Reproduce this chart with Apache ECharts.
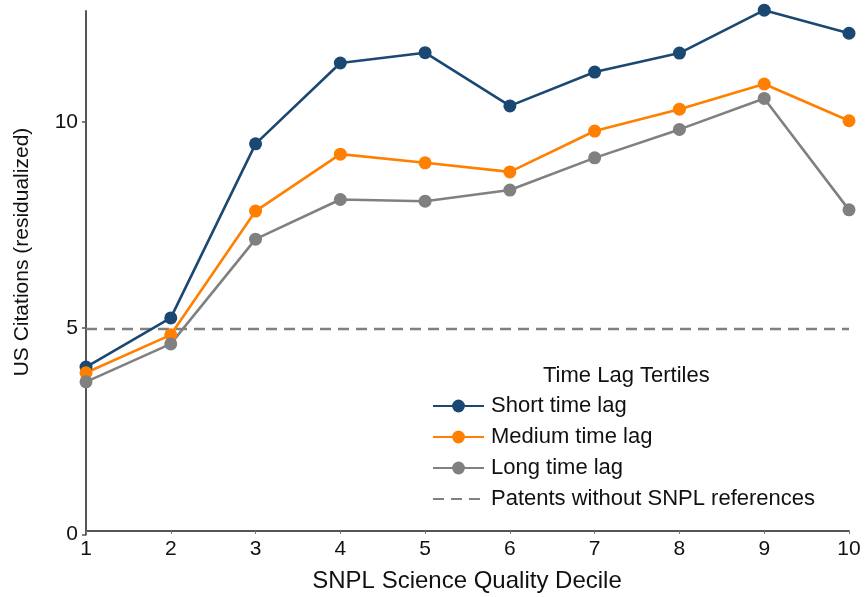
<!DOCTYPE html>
<html><head><meta charset="utf-8">
<script src="https://cdn.jsdelivr.net/npm/echarts@6/dist/echarts.min.js"></script>
<style>html,body{margin:0;padding:0;background:#fff}#c{width:865px;height:597px}</style>
</head><body><div id="c"></div>
<script>
const deciles = ['1','2','3','4','5','6','7','8','9','10'];
const shortLag = [4.06, 5.25, 9.47, 11.43, 11.68, 10.39, 11.21, 11.67, 12.71, 12.15];
const mediumLag = [3.92, 4.84, 7.84, 9.22, 9.01, 8.79, 9.78, 10.31, 10.92, 10.03];
const longLag = [3.70, 4.62, 7.16, 8.12, 8.08, 8.35, 9.13, 9.82, 10.57, 7.87];
const noSnplValue = 4.98;
const noSnpl = deciles.map(() => noSnplValue);
const legendNames = ['Short time lag','Medium time lag','Long time lag','Patents without SNPL references'];

const F = 'Liberation Sans, Arial, sans-serif';
const chart = echarts.init(document.getElementById('c'));
function ser(name, data, color) {
  return {name, type:'line', data, symbol:'circle', symbolSize:13, clip:false,
    lineStyle:{color, width:2.6}, itemStyle:{color}, z:3};
}
chart.setOption({
  animation:false,
  textStyle:{fontFamily:F},
  grid:{left:86, right:16, top:11, bottom:62.5, containLabel:false},
  xAxis:{type:'category', data:deciles, boundaryGap:false, offset:-3.5,
    axisLine:{lineStyle:{color:'#555', width:2}},
    axisTick:{show:true, length:3, inside:false, lineStyle:{color:'#777', width:1}},
    axisLabel:{fontSize:21, color:'#111', margin:8, fontFamily:F}, splitLine:{show:false}},
  yAxis:{type:'value', min:0, max:12.69, interval:5,
    axisLine:{show:true, lineStyle:{color:'#555', width:2}},
    axisTick:{show:true, length:4, lineStyle:{color:'#555', width:1.5}},
    axisLabel:{fontSize:21, color:'#111', margin:8, fontFamily:F,
      showMaxLabel:false}, splitLine:{show:false}},
  legend:{orient:'vertical', left:427, top:390, itemWidth:51, itemHeight:16, itemGap:9,
    textStyle:{fontSize:22, color:'#111', fontFamily:F, padding:[0,0,0,2]},
    data:[legendNames[0], legendNames[1], legendNames[2],
      {name:legendNames[3], itemStyle:{opacity:0}}]},
  graphic:[
    {type:'text', left:543, top:365, style:{text:'Time Lag Tertiles', fill:'#111', font:'22px Liberation Sans'}},
    {type:'text', x:22, y:252, rotation:Math.PI/2, style:{text:'US Citations (residualized)', fill:'#111', font:'21px Liberation Sans', align:'center', verticalAlign:'middle'}},
    {type:'text', x:467, y:581, style:{text:'SNPL Science Quality Decile', fill:'#111', font:'24px Liberation Sans', align:'center', verticalAlign:'middle'}}
  ],
  series:[
    {name:legendNames[3], type:'line', data:noSnpl, symbol:'none',
      lineStyle:{color:'#808080', width:2.6, type:[11,7]}, itemStyle:{color:'#808080'}, z:1},
    ser(legendNames[0], shortLag, '#1b4872'),
    ser(legendNames[1], mediumLag, '#ff8000'),
    ser(legendNames[2], longLag, '#808080')
  ]
});
</script></body></html>
